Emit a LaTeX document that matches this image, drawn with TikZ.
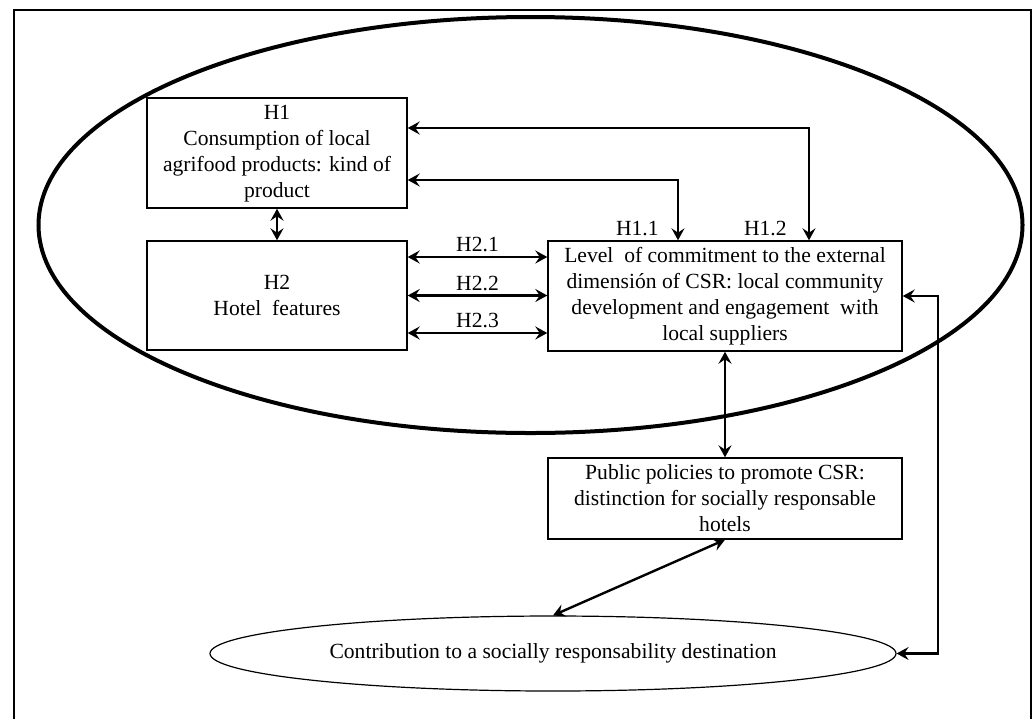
\documentclass[tikz,border=0pt]{standalone}
\usepackage{fontspec}
\setmainfont{Liberation Serif}
\usetikzlibrary{arrows.meta,shapes.geometric}

\begin{document}
\begin{tikzpicture}[x=0.5pt,y=-0.5pt,
		font=\fontsize{10.8}{13}\selectfont,
		box/.style={draw, line width=0.7pt, align=center, inner sep=0pt},
		biarrow/.style={line width=1.2pt, {Stealth[length=6pt,width=6.5pt,inset=2.2pt]}-{Stealth[length=6pt,width=6.5pt,inset=2.2pt]}},
		lbl/.style={inner sep=2pt}]
		\useasboundingbox (0,0) rectangle (1036,718);
		
		% frame
		\draw[line width=1pt] (14,730) |- (1031,10) -- (1031,730);
		% hotel ellipse
		\draw[line width=2pt] (530.5,225) ellipse [x radius=492, y radius=208];
		
		% boxes
		\node[box, minimum width=130pt, minimum height=55pt, text depth=2pt] (H1) at (277,153) {H1\\Consumption of local\\agrifood products: kind of\\product};
		\node[box, minimum width=130pt, minimum height=54.5pt] (H2) at (277,295.5) {H2\\Hotel\ \ features};
		\node[box, minimum width=177pt, minimum height=55pt] (Level) at (725,296) {Level\ \ of commitment to the external\\dimensión of CSR: local community\\development and engagement\ \ with\\local suppliers};
		\node[box, minimum width=177pt, minimum height=40.5pt] (Public) at (725,498.5) {Public policies to promote CSR:\\distinction for socially responsable\\hotels};
		% destination
		\node[draw, ellipse, line width=0.6pt, minimum width=343pt, minimum height=37.5pt, inner sep=0pt] (Dest) at (553,653.5) {Contribution to a socially responsability destination};
		
		% H1
		\draw[biarrow] ([yshift=12.5pt]H1.east) -| ([xshift=42pt]Level.north);
		\draw[biarrow] ([yshift=-13.5pt]H1.east) -| ([xshift=-23.5pt]Level.north);
		\node[lbl, anchor=south east] at ([xshift=-31pt]Level.north) {H1.1};
		\node[lbl, anchor=south east] at ([xshift=33pt]Level.north) {H1.2};
		\draw[biarrow] (H1.south) -- (H2.north);
		
		% H2
		\draw[biarrow] ([yshift=19.25pt]H2.east) -- node[lbl, above] {H2.1} ([yshift=19.25pt]H2.east -| Level.west);
		\draw[biarrow] (H2.east) -- node[lbl, above] {H2.2} (H2.east -| Level.west);
		\draw[biarrow] ([yshift=-18.75pt]H2.east) -- node[lbl, above] {H2.3} ([yshift=-18.75pt]H2.east -| Level.west);
		
		% policies and destination
		\draw[biarrow] (Level.south) -- (Public.north);
		\draw[biarrow] (Public.south) -- (Dest.north);
		\draw[biarrow] (Level.east) -- ++(35,0) |- (Dest.east);
	\end{tikzpicture}
\end{document}
